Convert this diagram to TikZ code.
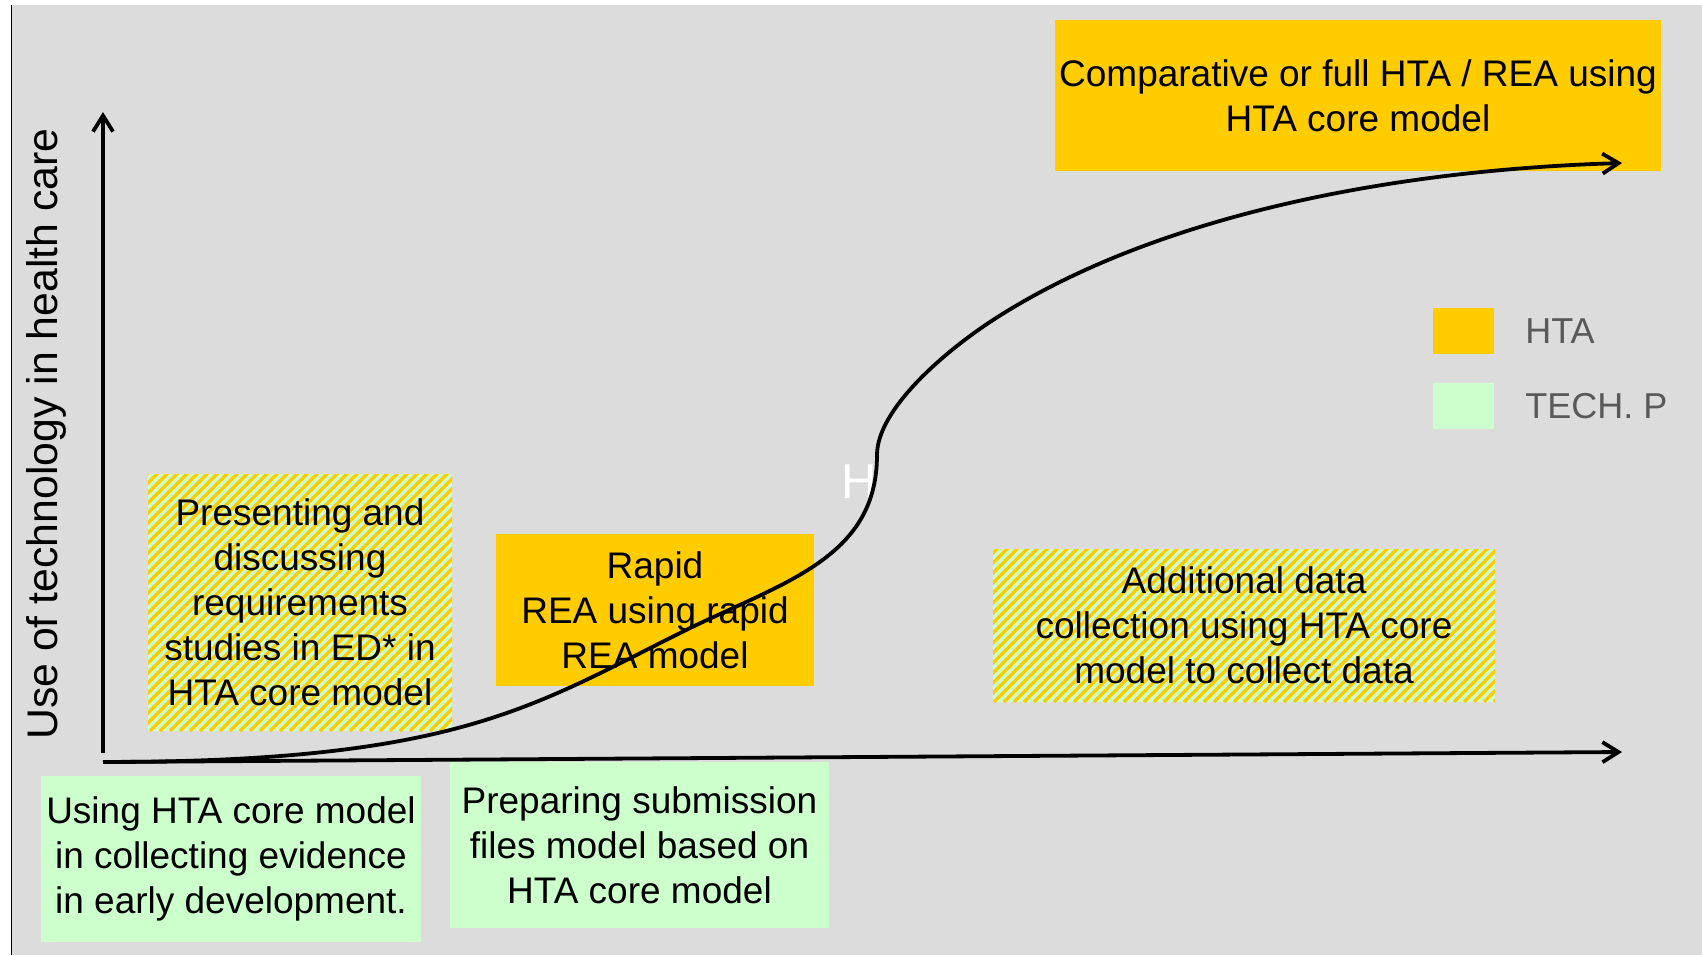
\documentclass[tikz,border=0pt]{standalone}
\usepackage{fontspec}
\setmainfont{Liberation Sans}
\usetikzlibrary{arrows.meta}
\definecolor{htayellow}{HTML}{FFCC00}
\definecolor{techgreen}{HTML}{CCFFCC}
\definecolor{slide}{HTML}{DCDCDC}
\definecolor{keygray}{HTML}{595959}

\begin{document}
\begin{tikzpicture}[x=0.5pt, y=-0.5pt,
		box/.style={inner sep=0pt, align=center, font=\fontsize{18.5}{22.5}\selectfont},
		htabox/.style={box, fill=htayellow},
		techbox/.style={box, fill=techgreen},
		mixbox/.style={box, fill=techgreen, path picture={
			\foreach \k in {-42,...,26}
				\draw[htayellow, line width=1.7pt] ([xshift=\k*5pt]path picture bounding box.south) -- ++(300pt,300pt);
		}},
		keybox/.style={inner sep=0pt, minimum width=30.5pt, minimum height=23pt},
		keytext/.style={inner sep=0pt, anchor=west, text=keygray, font=\fontsize{18}{21}\selectfont},
		barb/.style={-{Straight Barb[length=8pt, width=10pt]}, line width=1.9pt}]
		\useasboundingbox (0,0) rectangle (1702,955);
		\fill[slide] (11,5) rectangle (1702,955);
		\draw[line width=0.5pt] (11,5) -- (11,955);
		
		\node[rotate=90, inner sep=0pt, font=\fontsize{21.4}{25}\selectfont] (ylabel) at (46,434) {Use of technology in health care};
		
		\node[htabox, minimum width=303pt, minimum height=75.5pt] (full) at (1358,95.5) {Comparative or full HTA / REA using\\HTA core model};
		\node[mixbox, minimum width=152pt, minimum height=128.5pt] (early) at (300,602.5) {Presenting and\\discussing\\requirements\\studies in ED* in\\HTA core model};
		\node[htabox, minimum width=159pt, minimum height=76pt] (rapid) at (655,610) {Rapid\\REA using rapid\\REA model};
		\node[mixbox, minimum width=251pt, minimum height=76.5pt] (extra) at (1244,625.5) {Additional data\\collection using HTA core\\model to collect data};
		\node[techbox, minimum width=190pt, minimum height=83pt] (using) at (231,859) {Using HTA core model\\in collecting evidence\\in early development.};
		\node[techbox, minimum width=189.5pt, minimum height=83pt] (prep) at (639.5,845) {Preparing submission\\files model based on\\HTA core model};
		
		\node[keybox, fill=htayellow] (keyhta) at (1463.5,331) {};
		\node[keybox, fill=techgreen] (keytech) at (1463.5,406) {};
		\node[keytext] (keyhtatext) at (1525,331) {HTA};
		\node[keytext] (keytechtext) at (1525,406) {TECH. P};
		
		\node[inner sep=0pt, text=white, font=\fontsize{24.5}{29}\selectfont] (ghost) at (859,482) {H};
		
		\coordinate (origin) at (103,762);
		\coordinate (ybase) at (103,753);
		\coordinate (ytop) at (103,112);
		\coordinate (xend) at (1622,752);
		\coordinate (bend) at (877,455);
		\coordinate (curveend) at (1622,163);
		
		\draw[barb] (ybase) -- (ytop);
		\draw[barb] (origin) -- (xend);
		\draw[barb] (origin) .. controls (453,762) and (530,708) .. (680,633)
			.. controls (780,583) and (877,560) .. (bend)
			.. controls (877,410) and (943,352.5) .. (993,320)
			.. controls (1143,222.5) and (1372,170.5) .. (curveend);
	\end{tikzpicture}
\end{document}
